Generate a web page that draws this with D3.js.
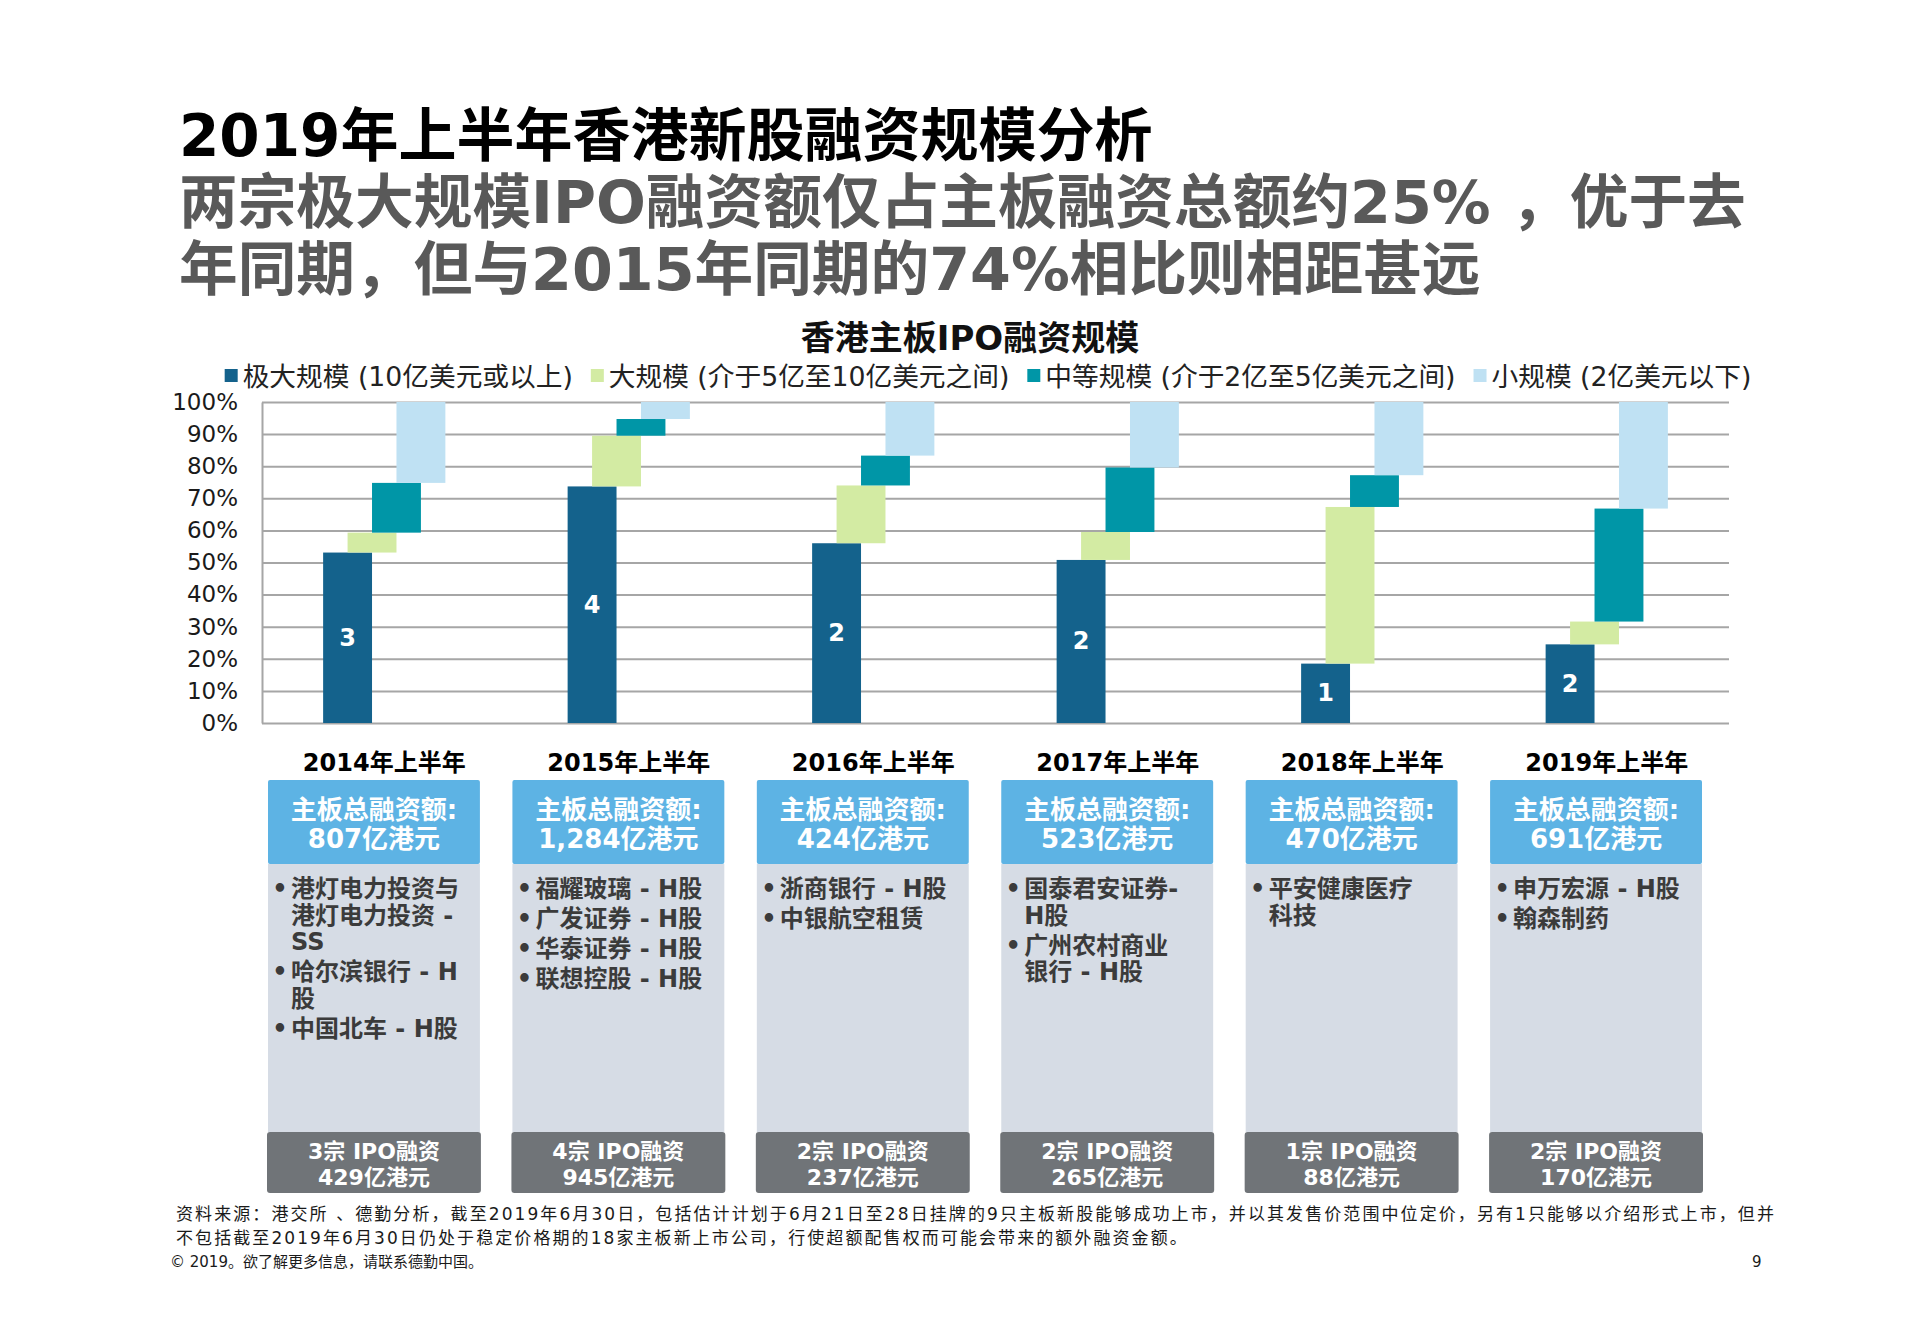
<!DOCTYPE html>
<html lang="zh">
<head>
<meta charset="utf-8">
<title>2019年上半年香港新股融资规模分析</title>
<script src="https://d3js.org/d3.v7.min.js"></script>
<style>
  body { margin: 0; background: #fff; }
  svg { display: block; font-family: "DejaVu Sans", "Noto Sans CJK SC", sans-serif; }
</style>
</head>
<body>
<div id="chart"></div>
<script>
// ---- data ----
const years = ["2014年上半年", "2015年上半年", "2016年上半年", "2017年上半年", "2018年上半年", "2019年上半年"];
const seriesNames = ["极大规模 (10亿美元或以上)", "大规模 (介于5亿至10亿美元之间)", "中等规模 (介于2亿至5亿美元之间)", "小规模 (2亿美元以下)"];
const seriesColors = ["#14628c", "#d3eba3", "#0096a7", "#bfe1f3"];

// share of main board funds raised, in %
const extraLarge = [53.1, 73.7, 56.0, 50.8, 18.5, 24.5];
const large      = [6.2, 15.8, 18.0, 8.7, 48.8, 7.1];
const medium     = [15.5, 5.2, 9.3, 20.1, 9.9, 35.2];
const small      = [25.2, 5.3, 16.7, 20.4, 22.8, 33.2];

const extraLargeCount = [3, 4, 2, 2, 1, 2];
const totalRaised = ["807", "1,284", "424", "523", "470", "691"];
const extraLargeRaised = ["429", "945", "237", "265", "88", "170"];
const yTicks = [0, 10, 20, 30, 40, 50, 60, 70, 80, 90, 100];

// IPO names listed under each half-year (each item = its wrapped lines)
const listings = [
  [["港灯电力投资与", "港灯电力投资 -", "SS"], ["哈尔滨银行 - H", "股"], ["中国北车 - H股"]],
  [["福耀玻璃 - H股"], ["广发证券 - H股"], ["华泰证券 - H股"], ["联想控股 - H股"]],
  [["浙商银行 - H股"], ["中银航空租赁"]],
  [["国泰君安证券-", "H股"], ["广州农村商业", "银行 - H股"]],
  [["平安健康医疗", "科技"]],
  [["申万宏源 - H股"], ["翰森制药"]]
];

const title = "2019年上半年香港新股融资规模分析";
const subtitle = ["两宗极大规模IPO融资额仅占主板融资总额约25% ，优于去", "年同期，但与2015年同期的74%相比则相距甚远"];
const chartTitle = "香港主板IPO融资规模";
const footnote = [
  "资料来源：港交所 、德勤分析，截至2019年6月30日，包括估计计划于6月21日至28日挂牌的9只主板新股能够成功上市，并以其发售价范围中位定价，另有1只能够以介绍形式上市，但并",
  "不包括截至2019年6月30日仍处于稳定价格期的18家主板新上市公司，行使超额配售权而可能会带来的额外融资金额。"
];
const copyright = "© 2019。欲了解更多信息，请联系德勤中国。";

// ---- page ----
const W = 1908, H = 1322;
const svg = d3.select("#chart").append("svg").attr("width", W).attr("height", H);

svg.append("text").attr("x", 179).attr("y", 156)
  .attr("font-size", 58).attr("font-weight", "bold").attr("fill", "#000")
  .text(title);

svg.selectAll(".subtitle").data(subtitle).enter().append("text")
  .attr("class", "subtitle")
  .attr("x", 179).attr("y", (d, i) => 223 + i * 67)
  .attr("font-size", 58.7).attr("font-weight", "bold").attr("fill", "#595959")
  .text(d => d);

svg.append("text").attr("x", 970).attr("y", 350).attr("text-anchor", "middle")
  .attr("font-size", 34).attr("font-weight", "bold").attr("fill", "#111")
  .text(chartTitle);

// legend, laid out left to right then centred
const legend = svg.append("g");
let lx = 0;
seriesNames.forEach((name, i) => {
  const g = legend.append("g").attr("transform", `translate(${lx},0)`);
  g.append("rect").attr("x", 0).attr("y", -7).attr("width", 13).attr("height", 13).attr("fill", seriesColors[i]);
  const t = g.append("text").attr("x", 18).attr("y", 0).attr("dominant-baseline", "central")
    .attr("font-size", 26.7).attr("fill", "#222").text(name);
  lx += 18 + t.node().getComputedTextLength() + 18;
});
lx -= 18;
legend.attr("transform", `translate(${988 - lx / 2},376)`);

// ---- chart ----
const plot = { left: 262, right: 1729, top: 402, bottom: 723 };
const x = d3.scaleBand().domain(years).range([plot.left, plot.right]).padding(0);
const y = d3.scaleLinear().domain([0, 100]).range([plot.bottom, plot.top]);
const barW = x.bandwidth() * 0.2;

const yAxis = svg.append("g")
  .attr("transform", `translate(${plot.left},0)`)
  .call(d3.axisLeft(y).tickValues(yTicks).tickFormat(d => d + "%")
    .tickSize(-(plot.right - plot.left)).tickSizeOuter(0).tickPadding(24));
yAxis.select(".domain").attr("stroke", "#a6a6a6").attr("stroke-width", 2);
yAxis.selectAll(".tick line").attr("stroke", "#a6a6a6").attr("stroke-width", 2);
yAxis.selectAll(".tick text").attr("font-size", 23).attr("fill", "#1a1a1a")
  .attr("font-family", "DejaVu Sans, sans-serif");

// floating (waterfall) bars: each band starts where the previous one ended
const series = [extraLarge, large, medium, small];
const segs = [];
years.forEach((yr, j) => {
  let base = 0;
  series.forEach((vals, i) => {
    segs.push({ year: yr, i: i, y0: base, y1: base + vals[j] });
    base += vals[j];
  });
});

const barX = d => x(d.year) + x.bandwidth() / 2 - 1.25 * barW + d.i * barW / 2;

svg.append("g").selectAll("rect").data(segs).enter().append("rect")
  .attr("x", barX)
  .attr("y", d => y(d.y1))
  .attr("width", barW)
  .attr("height", d => y(d.y0) - y(d.y1))
  .attr("fill", d => seriesColors[d.i]);

svg.append("g").selectAll("text").data(years).enter().append("text")
  .attr("x", (d, j) => barX({ year: d, i: 0 }) + barW / 2)
  .attr("y", (d, j) => y(extraLarge[j] / 2))
  .attr("text-anchor", "middle").attr("dominant-baseline", "central")
  .attr("font-size", 24).attr("font-weight", "bold").attr("fill", "#fff")
  .text((d, j) => extraLargeCount[j]);

// year labels
svg.append("g").selectAll("text").data(years).enter().append("text")
  .attr("x", d => x(d) + x.bandwidth() / 2).attr("y", 763)
  .attr("text-anchor", "middle").attr("dominant-baseline", "central")
  .attr("font-size", 24).attr("font-weight", "bold").attr("fill", "#000")
  .text(d => d);

// ---- info boxes under each half-year ----
const bx = d3.scaleBand().domain(years).range([268, 1702]).paddingInner(0.133).paddingOuter(0);
const boxes = svg.append("g").selectAll("g").data(years).enter().append("g")
  .attr("transform", d => `translate(${bx(d)},0)`);
const bw = bx.bandwidth();

boxes.append("rect").attr("x", 0).attr("y", 864).attr("width", bw).attr("height", 268).attr("fill", "#d6dce5");
boxes.append("rect").attr("x", 0).attr("y", 780).attr("width", bw).attr("height", 84).attr("rx", 2).attr("fill", "#5db3e4");
boxes.append("rect").attr("x", -1).attr("y", 1132).attr("width", bw + 2).attr("height", 61).attr("rx", 3).attr("fill", "#707478");

boxes.append("text").attr("x", bw / 2).attr("y", 810).attr("text-anchor", "middle").attr("dominant-baseline", "central")
  .attr("font-size", 26).attr("font-weight", "bold").attr("fill", "#fff").text("主板总融资额:");
boxes.append("text").attr("x", bw / 2).attr("y", 839).attr("text-anchor", "middle").attr("dominant-baseline", "central")
  .attr("font-size", 26).attr("font-weight", "bold").attr("fill", "#fff").text((d, j) => totalRaised[j] + "亿港元");

boxes.append("text").attr("x", bw / 2).attr("y", 1151).attr("text-anchor", "middle").attr("dominant-baseline", "central")
  .attr("font-size", 22).attr("font-weight", "bold").attr("fill", "#fff").text((d, j) => extraLargeCount[j] + "宗 IPO融资");
boxes.append("text").attr("x", bw / 2).attr("y", 1177).attr("text-anchor", "middle").attr("dominant-baseline", "central")
  .attr("font-size", 22).attr("font-weight", "bold").attr("fill", "#fff").text((d, j) => extraLargeRaised[j] + "亿港元");

boxes.each(function (d, j) {
  const g = d3.select(this);
  let ly = 889;
  listings[j].forEach(item => {
    g.append("text").attr("x", 12).attr("y", ly).attr("text-anchor", "middle").attr("dominant-baseline", "central")
      .attr("font-size", 24).attr("font-weight", "bold").attr("fill", "#3b3b3b").text("•");
    item.forEach(line => {
      g.append("text").attr("x", 23).attr("y", ly).attr("dominant-baseline", "central")
        .attr("font-size", 24).attr("font-weight", "bold").attr("fill", "#3b3b3b").text(line);
      ly += 26.5;
    });
    ly += 3.5;
  });
});

// ---- footnote ----
const notes = svg.selectAll(".note").data(footnote).enter().append("text")
  .attr("class", "note")
  .attr("x", 176).attr("y", (d, i) => 1220 + i * 23.5)
  .attr("font-size", 17).attr("fill", "#1a1a1a")
  .text(d => d);
const n0 = notes.nodes()[0];
const ls = (1600 - n0.getComputedTextLength()) / footnote[0].length;
notes.attr("letter-spacing", ls);

svg.append("text").attr("x", 170).attr("y", 1267).attr("font-size", 15).attr("fill", "#1a1a1a").text(copyright);
svg.append("text").attr("x", 1752).attr("y", 1267).attr("font-size", 15).attr("fill", "#1a1a1a").text("9");
</script>
</body>
</html>
